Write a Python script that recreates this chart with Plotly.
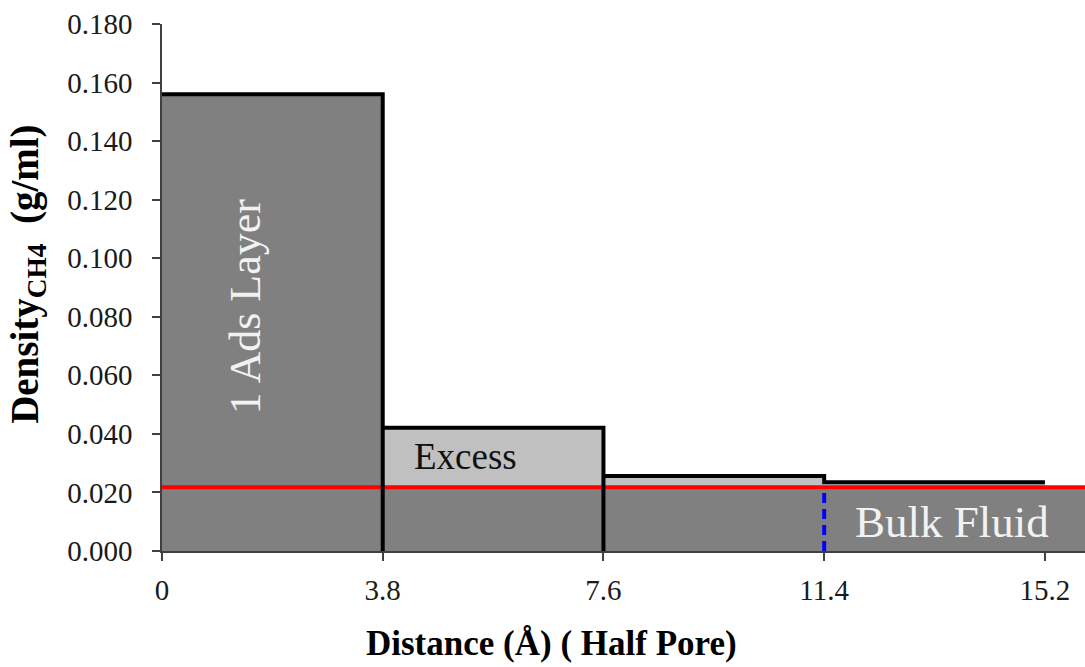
import plotly.graph_objects as go

# ---- data ----
bin_edges = [0.0, 3.8, 7.6, 11.4, 15.2]
layer_density = [0.156, 0.0421, 0.0256, 0.0235]
bulk_density = 0.0218
x_end = 15.89
x_tick_labels = ["0", "3.8", "7.6", "11.4", "15.2"]
y_ticks = [0.0, 0.02, 0.04, 0.06, 0.08, 0.10, 0.12, 0.14, 0.16, 0.18]

DARK = "#808080"
LIGHT = "#c0c0c0"
FONT = "Liberation Serif"

fig = go.Figure()

# light-grey excess bars (layers 2..4)
for i in range(1, len(layer_density)):
    x0, x1 = bin_edges[i], bin_edges[i + 1]
    h = layer_density[i]
    fig.add_trace(go.Scatter(x=[x0, x0, x1, x1, x0], y=[0, h, h, 0, 0],
                             fill="toself", fillcolor=LIGHT, mode="none",
                             hoverinfo="skip", showlegend=False))

# bulk fluid region (dark grey)
fig.add_trace(go.Scatter(x=[0, 0, x_end, x_end, 0],
                         y=[0, bulk_density, bulk_density, 0, 0],
                         fill="toself", fillcolor=DARK, mode="none",
                         hoverinfo="skip", showlegend=False))

# first adsorbed layer (dark grey)
x0, x1, h = bin_edges[0], bin_edges[1], layer_density[0]
fig.add_trace(go.Scatter(x=[x0, x0, x1, x1, x0], y=[0, h, h, 0, 0],
                         fill="toself", fillcolor=DARK, mode="none",
                         hoverinfo="skip", showlegend=False))

# red bulk line
fig.add_trace(go.Scatter(x=[0, x_end], y=[bulk_density, bulk_density],
                         mode="lines", line=dict(color="#ff0000", width=4),
                         hoverinfo="skip", showlegend=False))

# black outlines
fig.add_trace(go.Scatter(x=[bin_edges[0], bin_edges[1], bin_edges[1]],
                         y=[layer_density[0], layer_density[0], 0],
                         mode="lines", line=dict(color="black", width=4),
                         hoverinfo="skip", showlegend=False))
fig.add_trace(go.Scatter(x=[bin_edges[1], bin_edges[2], bin_edges[2]],
                         y=[layer_density[1], layer_density[1], 0],
                         mode="lines", line=dict(color="black", width=4),
                         hoverinfo="skip", showlegend=False))
fig.add_trace(go.Scatter(x=[bin_edges[2], bin_edges[3], bin_edges[3], bin_edges[4]],
                         y=[layer_density[2], layer_density[2], layer_density[3], layer_density[3]],
                         mode="lines", line=dict(color="black", width=4),
                         hoverinfo="skip", showlegend=False))

# blue dashed divider
fig.add_trace(go.Scatter(x=[bin_edges[3], bin_edges[3]], y=[0, bulk_density],
                         mode="lines", line=dict(color="#0000ff", width=4, dash="10px,6px"),
                         hoverinfo="skip", showlegend=False))

fig.update_layout(
    width=1085, height=667,
    margin=dict(l=162, r=0, t=24, b=116),
    paper_bgcolor="white", plot_bgcolor="white",
    font=dict(family=FONT, color="#1a1a1a"),
    xaxis=dict(range=[0, x_end], tickvals=bin_edges, ticktext=x_tick_labels,
               showgrid=False, zeroline=False, showline=True, linecolor="#404040",
               linewidth=1.5, ticks="outside", ticklen=8, tickwidth=1.5,
               tickcolor="#404040", tickfont=dict(size=29, family=FONT, color="#1a1a1a"),
               ticklabelstandoff=4),
    yaxis=dict(range=[0, 0.18], tickvals=y_ticks, tickformat=".3f",
               showgrid=False, zeroline=False, showline=True, linecolor="#404040",
               linewidth=1.5, ticks="outside", ticklen=8, tickwidth=1.5,
               tickcolor="#404040", tickfont=dict(size=29, family=FONT, color="#1a1a1a"),
               ticklabelstandoff=14),
    annotations=[
        dict(text="1 Ads Layer", x=1.43, y=0.0833, xref="x", yref="y",
             textangle=-90, showarrow=False,
             font=dict(family=FONT, size=44, color="#f2f2f2")),
        dict(text="Excess", x=5.23, y=0.0324, xref="x", yref="y",
             showarrow=False, font=dict(family=FONT, size=37, color="#111111")),
        dict(text="Bulk Fluid", x=13.6, y=0.0099, xref="x", yref="y",
             showarrow=False, font=dict(family=FONT, size=45, color="#f2f2f2")),
        dict(text="<b>Density<sub>CH4</sub>  (g/ml)</b>", x=(28 - 162) / 923, y=0.524,
             xref="paper", yref="paper", textangle=-90, showarrow=False,
             xanchor="center", yanchor="middle",
             font=dict(family=FONT, size=39, color="black")),
        dict(text="<b>Distance (Å) ( Half Pore)</b>", x=0.4215, y=-0.1746,
             xref="paper", yref="paper", showarrow=False,
             xanchor="center", yanchor="middle",
             font=dict(family=FONT, size=35, color="black")),
    ],
)

fig.write_html("out.html")
